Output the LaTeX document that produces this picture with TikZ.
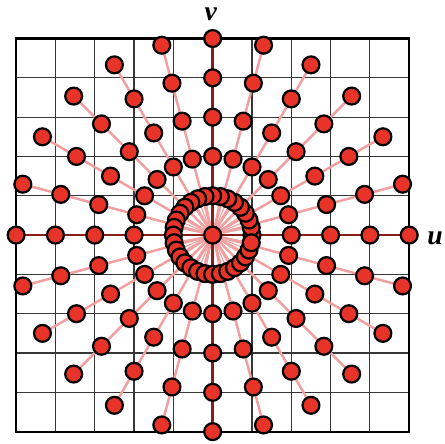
\documentclass[tikz,border=0pt]{standalone}
\usepackage{fontspec}
\setmainfont{Liberation Serif}
\usepackage{tikz}
\usetikzlibrary{calc}
\usepackage{xcolor}
\definecolor{dotred}{RGB}{232,52,40}
\definecolor{rayred}{RGB}{240,160,160}
\definecolor{axisred}{RGB}{135,30,25}
\definecolor{gridgray}{RGB}{55,55,55}

\tikzset{
  dot/.style={circle, draw=black, line width=1.6pt, fill=dotred, minimum size=0.43cm, inner sep=0pt},
  lab/.style={font=\fontsize{20}{20}\selectfont\bfseries\itshape}
}

\begin{document}
\begin{tikzpicture}
  \useasboundingbox (-5.41,-5.29) rectangle (5.91,5.98);
  \draw[step=1, gridgray, line width=0.8pt] (-5,-5) grid (5,5);
  \draw[line width=1.6pt] (-5,-5) rectangle (5,5);
  \coordinate (o) at (0,0);
  % short spokes to the inner ring
  \foreach \k in {0,...,31}{
    \coordinate (i\k) at (\k*11.25:1);
    \draw[rayred, line width=0.8pt] (o) -- (i\k);
  }
  % long rays
  \foreach \k in {0,...,23}{
    \coordinate (e\k) at (\k*15:5);
    \draw[rayred, line width=1.8pt] (o) -- (e\k);
  }
  \draw[axisred, line width=2pt] (e0) -- (e12) (e6) -- (e18);
  % samples
  \foreach \k in {0,...,31}{
    \node[dot] (d1-\k) at (i\k) {};
  }
  \foreach \r in {2,...,5}{
    \foreach \k in {0,...,23}{
      \node[dot] (d\r-\k) at (\k*15:\r) {};
    }
  }
  \node[dot] (c) at (o) {};
  \node[lab] (v) at (-0.05,5.62) {v};
  \node[lab] (u) at (5.66,-0.08) {u};
\end{tikzpicture}
\end{document}
